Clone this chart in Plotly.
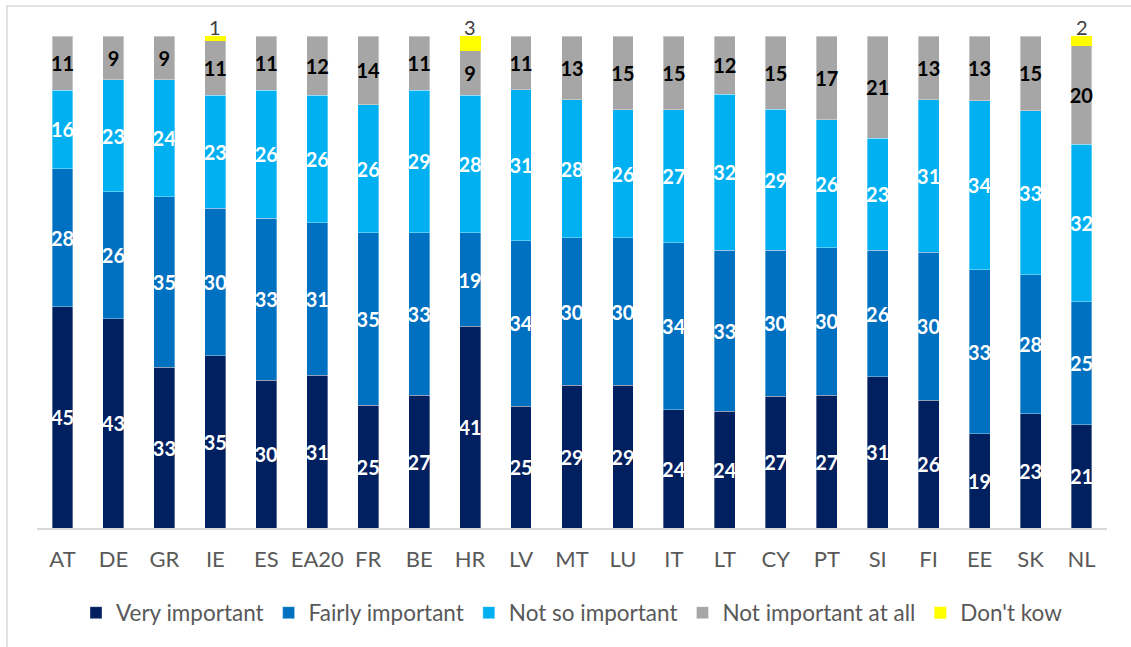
import plotly.graph_objects as go

countries = ["AT", "DE", "GR", "IE", "ES", "EA20", "FR", "BE", "HR", "LV", "MT",
             "LU", "IT", "LT", "CY", "PT", "SI", "FI", "EE", "SK", "NL"]
very_important = [45, 43, 33, 35, 30, 31, 25, 27, 41, 25, 29, 29, 24, 24, 27, 27, 31, 26, 19, 23, 21]
fairly_important = [28, 26, 35, 30, 33, 31, 35, 33, 19, 34, 30, 30, 34, 33, 30, 30, 26, 30, 33, 28, 25]
not_so_important = [16, 23, 24, 23, 26, 26, 26, 29, 28, 31, 28, 26, 27, 32, 29, 26, 23, 31, 34, 33, 32]
not_important_at_all = [11, 9, 9, 11, 11, 12, 14, 11, 9, 11, 13, 15, 15, 12, 15, 17, 21, 13, 13, 15, 20]
dont_know = [0, 0, 0, 1, 0, 0, 0, 0, 3, 0, 0, 0, 0, 0, 0, 0, 0, 0, 0, 0, 2]

series = [
    ("Very important", very_important, "#002060", "white"),
    ("Fairly important", fairly_important, "#0070C0", "white"),
    ("Not so important", not_so_important, "#00B0F0", "white"),
    ("Not important at all", not_important_at_all, "#A6A6A6", "black"),
]

FONT = "Lato"
fig = go.Figure()
for name, vals, color, tcolor in series:
    fig.add_trace(go.Bar(
        name=name, x=countries, y=vals,
        marker=dict(color=color, line=dict(width=0.5, color="rgba(255,255,255,0.7)")),
        text=[str(v) for v in vals], textposition="inside", insidetextanchor="middle",
        textangle=0, constraintext="none",
        textfont=dict(family=FONT, size=20, color=tcolor, weight="bold"),
        hoverinfo="skip",
    ))
fig.add_trace(go.Bar(
    name="Don't kow", x=countries, y=dont_know,
    marker=dict(color="#FFFF00", line=dict(width=0)),
    hoverinfo="skip",
))

# labels for "Don't kow" sit on top of each 100% stack
for c, v in zip(countries, dont_know):
    if v:
        fig.add_annotation(x=c, y=100, text=str(v), showarrow=False,
                           yanchor="bottom", yshift=-5,
                           font=dict(family=FONT, size=20, color="#404040"))

L, R, T, B = 37, 24, 36, 119
PW, PH = 1131 - L - R, 647 - T - B

fig.update_layout(
    width=1131, height=647,
    margin=dict(l=L, r=R, t=T, b=B, pad=0),
    barmode="stack", barnorm="percent", bargap=0.59,
    paper_bgcolor="white", plot_bgcolor="white",
    uniformtext=dict(minsize=20, mode="show"),
    font=dict(family=FONT, color="#595959"),
    showlegend=True,
    legend=dict(orientation="h", x=0.5, xanchor="center", y=(528 - 613) / PH, yanchor="middle",
                font=dict(family=FONT, size=22.5, color="#595959"),
                traceorder="normal", itemwidth=30),
    xaxis=dict(showline=True, linecolor="#D9D9D9", linewidth=1.5, ticks="",
               tickfont=dict(family=FONT, size=22, color="#595959"),
               ticklabelstandoff=11,
               showgrid=False, zeroline=False),
    yaxis=dict(visible=False, range=[0, 100.0001], showgrid=False, zeroline=False),
    shapes=[dict(type="rect", xref="paper", yref="paper",
                 x0=(7 - L) / PW, x1=(1140 - L) / PW,
                 y0=(528 - 660) / PH, y1=(528 - 6) / PH,
                 line=dict(color="#D9D9D9", width=1.5), layer="below")],
)

fig.write_html("out.html")
